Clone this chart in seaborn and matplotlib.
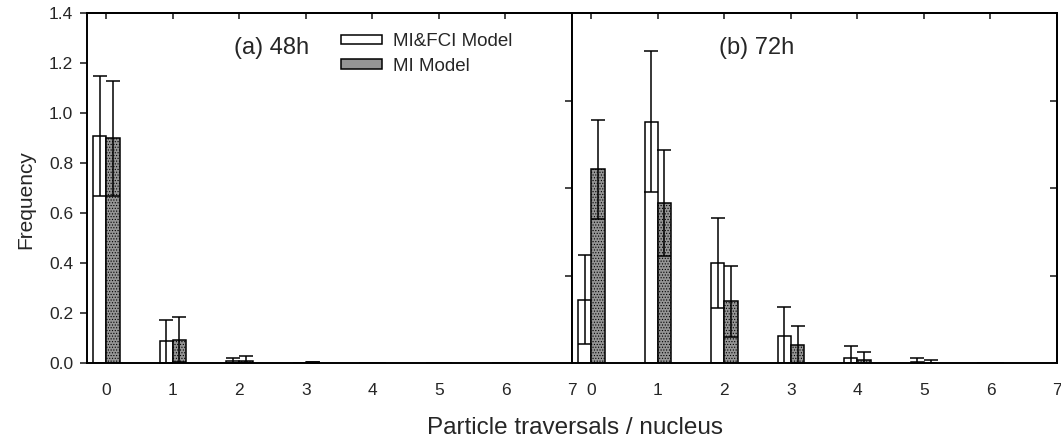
import matplotlib
matplotlib.use('Agg')
import matplotlib.pyplot as plt
import seaborn as sns
import pandas as pd

# data
traversals = [0, 1, 2, 3, 4, 5, 6]
models = ['MI&FCI Model', 'MI Model']

h48_mifci = [0.91, 0.088, 0.008, 0.0, 0.0, 0.0, 0.0]
h48_mifci_err = [0.24, 0.085, 0.012, 0.0, 0.0, 0.0, 0.0]
h48_mi = [0.90, 0.095, 0.010, 0.005, 0.0, 0.0, 0.0]
h48_mi_err = [0.23, 0.09, 0.018, 0.002, 0.0, 0.0, 0.0]

h72_mifci = [0.254, 0.967, 0.40, 0.11, 0.021, 0.004, 0.0]
h72_mifci_err = [0.178, 0.282, 0.18, 0.115, 0.05, 0.018, 0.0]
h72_mi = [0.777, 0.641, 0.248, 0.074, 0.012, 0.003, 0.0]
h72_mi_err = [0.198, 0.211, 0.142, 0.076, 0.034, 0.011, 0.0]

panel_titles = ['(a) 48h', '(b) 72h']
xtick_labels = ['0', '1', '2', '3', '4', '5', '6', '7']
yticks = [0.0, 0.2, 0.4, 0.6, 0.8, 1.0, 1.2, 1.4]

sns.set_style('white')
plt.rcParams['font.family'] = ['Liberation Sans', 'DejaVu Sans']
plt.rcParams['hatch.linewidth'] = 0.5


def make_df(v1, e1, v2, e2):
    rows = []
    for t, a, ea in zip(traversals, v1, e1):
        rows.append({'trav': t, 'model': models[0], 'freq': a, 'err': ea})
    for t, b, eb in zip(traversals, v2, e2):
        rows.append({'trav': t, 'model': models[1], 'freq': b, 'err': eb})
    return pd.DataFrame(rows)


dfs = [make_df(h48_mifci, h48_mifci_err, h48_mi, h48_mi_err),
       make_df(h72_mifci, h72_mifci_err, h72_mi, h72_mi_err)]

fig = plt.figure(figsize=(10.61, 4.45), dpi=100)
ax1 = fig.add_axes([87 / 1061, 1 - 363.3 / 445, 485 / 1061, 350 / 445])
ax2 = fig.add_axes([572 / 1061, 1 - 363.3 / 445, 485 / 1061, 350 / 445])

palette = {models[0]: 'white', models[1]: '#959595'}

for i, (ax, df) in enumerate(zip([ax1, ax2], dfs)):
    sns.barplot(data=df, x='trav', y='freq', hue='model', hue_order=models,
                palette=palette, width=0.4, edgecolor='black', linewidth=1.1,
                errorbar=None, ax=ax, legend=(i == 0))
    for cont, model in zip(ax.containers, models):
        sub = df[df['model'] == model]
        xs, ys, es = [], [], []
        for bar, val, err in zip(cont, sub['freq'], sub['err']):
            if model == models[1]:
                bar.set_hatch('......')
            if err > 0:
                xs.append(bar.get_x() + bar.get_width() / 2)
                ys.append(val)
                es.append(err)
        ax.errorbar(xs, ys, yerr=es, fmt='none', ecolor='black',
                    elinewidth=1.1, capsize=5, capthick=1.1)

    ax.set_xlim(-0.29, 7)
    ax.set_ylim(0, 1.4)
    ax.set_xticks(range(8))
    ax.set_xticklabels(xtick_labels, fontsize=12.5)
    ax.set_yticks(yticks)
    ax.set_xlabel('')
    ax.set_ylabel('')
    ax.tick_params(axis='x', direction='out', length=5, width=1.2, pad=9)
    for s in ax.spines.values():
        s.set_linewidth(1.4)
        s.set_color('black')
    if i == 0:
        ax.set_yticklabels([f'{v:.1f}' for v in yticks], fontsize=12.5)
        ax.tick_params(axis='y', direction='out', length=5, width=1.2,
                       pad=5, left=True)
    else:
        ax.tick_params(axis='y', left=False, labelleft=False)

    top = ax.secondary_xaxis('top')
    top.set_xticks(range(7))
    top.tick_params(direction='in', length=4, width=1.2, labeltop=False)
    top.spines['top'].set_linewidth(1.4)
    right = ax.secondary_yaxis('right')
    right.set_yticks([0.35, 0.70, 1.05])
    right.tick_params(direction='in', length=5, width=1.2, labelright=False)
    right.spines['right'].set_linewidth(1.4)

    ax.text(0.38, 0.902, panel_titles[i], transform=ax.transAxes,
            ha='center', va='center', fontsize=17)

ax1.legend(loc='upper left', bbox_to_anchor=(0.5, 0.975), frameon=False,
           fontsize=13.5, handlelength=2.2, handleheight=0.4,
           labelspacing=0.4, handletextpad=0.6, borderaxespad=0.2)

fig.text(26 / 1061, 1 - 200 / 445, 'Frequency', rotation=90,
         ha='center', va='center', fontsize=15)
fig.text(575 / 1061, 1 - 428 / 445, 'Particle traversals / nucleus',
         ha='center', va='center', fontsize=17.5)

fig.savefig('out.png', dpi=100)
